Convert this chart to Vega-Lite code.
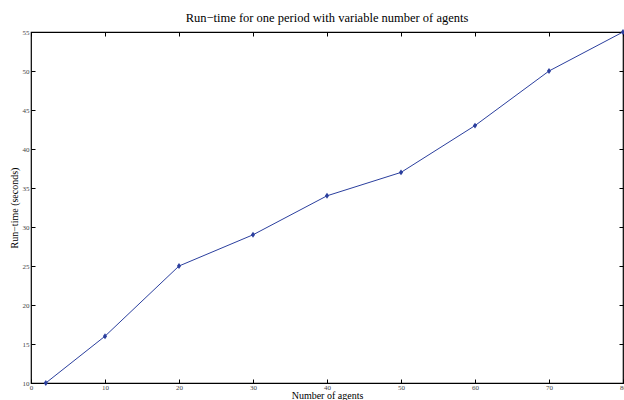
{
  "$schema": "https://vega.github.io/schema/vega-lite/v6.json",
  "width": 592,
  "height": 351,
  "autosize": {"type": "none"},
  "padding": {"left": 31, "top": 32, "right": 1, "bottom": 17},
  "background": "white",
  "title": {"text": "Run\u2212time for one period with variable number of agents", "font": "Liberation Serif", "fontSize": 12.5, "fontWeight": "normal", "color": "black", "offset": 4, "anchor": "middle"},
  "config": {"view": {"stroke": "black", "strokeWidth": 1.2}},
  "data": {"values": [
    {"agents": 2, "time": 10},
    {"agents": 10, "time": 16},
    {"agents": 20, "time": 25},
    {"agents": 30, "time": 29},
    {"agents": 40, "time": 34},
    {"agents": 50, "time": 37},
    {"agents": 60, "time": 43},
    {"agents": 70, "time": 50},
    {"agents": 80, "time": 55}
  ]},
  "resolve": {"axis": {"x": "independent", "y": "independent"}},
  "layer": [
    {
      "mark": {"type": "line", "color": "#2b3f9e", "strokeWidth": 1},
      "encoding": {
        "x": {"field": "agents", "type": "quantitative", "scale": {"domain": [0, 80], "nice": false, "zero": false},
              "axis": {"orient": "bottom", "values": [0,10,20,30,40,50,60,70,80], "title": "Number of agents", "titleFont": "Liberation Serif", "titleFontSize": 10, "titleFontWeight": "normal", "titleColor": "black", "titlePadding": 0, "labelFont": "Liberation Serif", "labelFontSize": 7, "labelColor": "#444", "labelPadding": 4, "tickSize": -4, "tickColor": "black", "domain": false, "grid": false, "labelFlush": false, "labelOverlap": false}},
        "y": {"field": "time", "type": "quantitative", "scale": {"domain": [10, 55], "nice": false, "zero": false},
              "axis": {"orient": "left", "values": [10,15,20,25,30,35,40,45,50,55], "title": "Run\u2212time (seconds)", "titleFont": "Liberation Serif", "titleFontSize": 10, "titleFontWeight": "normal", "titleColor": "black", "titlePadding": 3, "labelFont": "Liberation Serif", "labelFontSize": 7, "labelColor": "#444", "labelPadding": 6, "tickSize": -4, "tickColor": "black", "domain": false, "grid": false, "labelFlush": false, "labelOverlap": false}}
      }
    },
    {
      "mark": {"type": "point", "shape": "M0,-1.2L0.85,0L0,1.2L-0.85,0Z", "filled": true, "color": "#2b3f9e", "size": 24, "opacity": 1},
      "encoding": {
        "x": {"field": "agents", "type": "quantitative",
              "axis": {"orient": "top", "values": [0,10,20,30,40,50,60,70,80], "title": null, "labels": false, "tickSize": -4, "tickColor": "black", "domain": false, "grid": false}},
        "y": {"field": "time", "type": "quantitative",
              "axis": {"orient": "right", "values": [10,15,20,25,30,35,40,45,50,55], "title": null, "labels": false, "tickSize": -4, "tickColor": "black", "domain": false, "grid": false}}
      }
    }
  ]
}
